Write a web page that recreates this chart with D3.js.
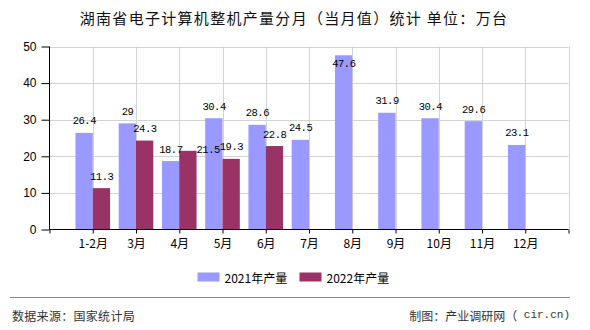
<!DOCTYPE html>
<html><head><meta charset="utf-8">
<script src="https://cdn.jsdelivr.net/npm/d3@7"></script>
<style>
html,body{margin:0;padding:0;background:#fff;}
svg{display:block;}
</style></head>
<body>
<svg id="c" width="590" height="330"></svg>
<script>
const title = "湖南省电子计算机整机产量分月（当月值）统计 单位：万台";
const categories = ["1-2月","3月","4月","5月","6月","7月","8月","9月","10月","11月","12月"];
const seriesNames = ["2021年产量","2022年产量"];
const values2021 = [26.4, 29, 18.7, 30.4, 28.6, 24.5, 47.6, 31.9, 30.4, 29.6, 23.1];
const values2022 = [11.3, 24.3, 21.5, 19.3, 22.8];
const yTicks = [0,10,20,30,40,50];
const colors = ["#9999FF","#993366"];
const sourceText = "数据来源：国家统计局";
const creditText = "制图：产业调研网（";
const creditLatin = " cir.cn)";

const svg = d3.select("#c");
const L = 49.5, R = 568.5, T = 46.5, B = 229.5;
const cjk = "'Noto Sans CJK SC','Noto Sans',sans-serif";
const mono = "'Liberation Mono','DejaVu Sans Mono',monospace";

const x = d3.scalePoint().domain(["_s", ...categories, "_e"]).range([L, R]);
const step = x.step();
const barW = step * 0.4;
const y = d3.scaleLinear().domain([0, 50]).range([B, T]);

// title
svg.append("text").attr("x", 294).attr("y", 17).attr("text-anchor","middle")
  .attr("dominant-baseline","central").attr("font-family", cjk).attr("font-size", 15)
  .attr("letter-spacing", 1.3).attr("fill", "#111").text(title);

// grid
const g = svg.append("g");
g.selectAll("line.hg").data(yTicks.filter(d => d > 0)).join("line")
  .attr("x1", L).attr("x2", R).attr("y1", d => Math.round(y(d)) + 0.5).attr("y2", d => Math.round(y(d)) + 0.5)
  .attr("stroke", "#d3d3d3");
g.selectAll("line.vg").data([...categories, "_e"]).join("line")
  .attr("x1", d => Math.round(x(d)) + 0.5).attr("x2", d => Math.round(x(d)) + 0.5)
  .attr("y1", T).attr("y2", B).attr("stroke", "#d3d3d3");

// bars
const bars = svg.append("g");
bars.selectAll("rect.s1").data(values2021).join("rect")
  .attr("x", (d, i) => x(categories[i]) - barW).attr("width", barW)
  .attr("y", d => y(d)).attr("height", d => B - y(d)).attr("fill", colors[0]);
bars.selectAll("rect.s2").data(values2022).join("rect")
  .attr("x", (d, i) => x(categories[i])).attr("width", barW)
  .attr("y", d => y(d)).attr("height", d => B - y(d)).attr("fill", colors[1]);

// axes
const yAxis = d3.axisLeft(y).tickValues(yTicks).tickSize(8).tickPadding(5);
const ya = svg.append("g").attr("transform", `translate(${L},0)`).call(yAxis);
ya.selectAll("text").attr("font-family", "'Liberation Sans',Arial,sans-serif").attr("font-size", 12).attr("fill","#000");
ya.selectAll("line,path").attr("stroke", "#000");
ya.select("path").attr("d", `M0,${T}V${B}`);

const xAxis = d3.axisBottom(x).tickValues(["_s", ...categories, "_e"]).tickSize(4).tickPadding(6)
  .tickFormat(d => d.startsWith("_") ? "" : d);
const xa = svg.append("g").attr("transform", `translate(0,${B})`).call(xAxis);
xa.selectAll("text").attr("font-family", cjk).attr("font-size", 12).attr("fill","#000");
xa.selectAll("line,path").attr("stroke", "#000");
xa.select("path").attr("d", `M${L},0H${R}`);

// value labels
const ls = -0.5;
function labelPos(v, cx) {
  const top = y(v);
  let by = top - 8.5;
  if (by - 8 < T) by = top + 11.5;
  return {x: cx - ls / 2, y: by, anchor: "middle"};
}
const labels = [];
values2021.forEach((v, i) => labels.push({v, ...labelPos(v, x(categories[i]) - barW / 2)}));
values2022.forEach((v, i) => {
  let p = labelPos(v, x(categories[i]) + barW / 2);
  const other = labelPos(values2021[i], x(categories[i]) - barW / 2);
  if (Math.abs(p.y - other.y) < 12) {
    p = {x: x(categories[i]) + barW, y: y(v) + 2.5, anchor: "start"};
  }
  labels.push({v, ...p});
});
svg.append("g").selectAll("text").data(labels).join("text")
  .attr("x", d => d.x).attr("y", d => d.y).attr("text-anchor", d => d.anchor)
  .attr("font-family", mono).attr("font-size", 10.5).attr("letter-spacing", ls).attr("fill", "#000")
  .text(d => d.v);

// legend
const lg = svg.append("g");
seriesNames.forEach((n, i) => {
  const lx = 197.5 + i * 102;
  lg.append("rect").attr("x", lx).attr("y", 272.5).attr("width", 22).attr("height", 9).attr("fill", colors[i]);
  lg.append("text").attr("x", lx + 27).attr("y", 277).attr("dominant-baseline","central")
    .attr("font-family", cjk).attr("font-size", 12).attr("fill", "#000").text(n);
});

// footer
svg.append("line").attr("x1", 10).attr("x2", 570).attr("y1", 297.5).attr("y2", 297.5).attr("stroke", "#888");
svg.append("text").attr("x", 12).attr("y", 315).attr("dominant-baseline","central")
  .attr("font-family", cjk).attr("font-size", 12).attr("letter-spacing", 0.3).attr("fill", "#333").text(sourceText);
const ft = svg.append("text").attr("x", 570).attr("y", 315).attr("dominant-baseline","central")
  .attr("text-anchor","end").attr("font-family", cjk).attr("font-size", 12).attr("fill", "#333");
ft.append("tspan").text(creditText);
ft.append("tspan").attr("font-family", mono).attr("font-size", 11).attr("xml:space","preserve").text(creditLatin);
</script>
</body></html>
